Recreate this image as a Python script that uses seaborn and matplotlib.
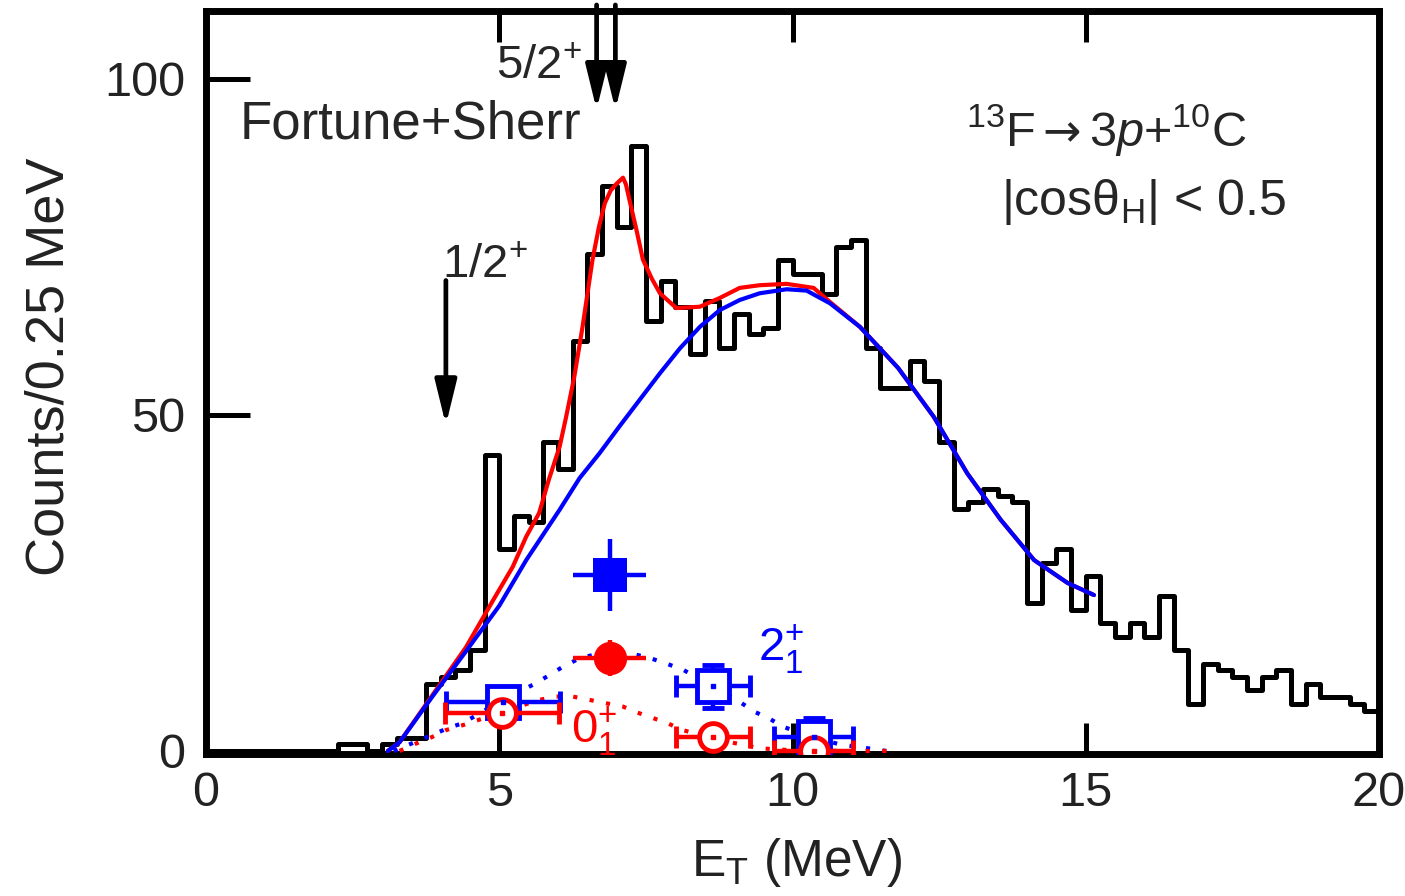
import numpy as np
import pandas as pd
import matplotlib
matplotlib.use("Agg")
import matplotlib.pyplot as plt
import seaborn as sns

# ---------------- data ----------------
bin_width = 0.25
bin_lo = np.arange(0, 20, bin_width)          # left edges of the 0.25 MeV bins
counts = [0, 0, 0, 0, 0, 0, 0, 0, 0,            # 0.00 - 2.25
          1, 1, 0, 1, 2, 2,                      # 2.25 - 3.75
          10, 11, 12, 15, 44, 30, 35, 34, 46, 42,  # 3.75 - 6.25
          61, 74, 84, 78, 90, 64, 70, 66, 59, 67,  # 6.25 - 8.75
          60, 65, 62, 63, 73, 71, 71, 68, 75, 76,  # 8.75 - 11.25
          60, 54, 54, 58, 55, 46, 36, 37, 39, 38,  # 11.25 - 13.75
          37, 22, 28, 30, 21, 26, 19, 17, 19, 17,  # 13.75 - 16.25
          23, 15, 7, 13, 12, 11, 9, 11, 12, 7,     # 16.25 - 18.75
          10, 8, 8, 7, 6]                          # 18.75 - 20.00

# total fit (red) and smooth background (blue)
fit_E = [3.1, 3.3, 3.86, 4.43, 4.9, 5.23, 5.46, 5.68, 5.85, 6.03, 6.14, 6.28,
         6.42, 6.59, 6.7, 6.8, 6.9, 7.0, 7.11, 7.16, 7.22, 7.34, 7.45,
         7.6, 7.74, 8.02, 8.42, 8.76, 9.1, 9.44, 9.9, 10.36, 10.64, 11.15,
         11.8, 12.41, 12.98, 13.55, 14.12, 14.69, 15.14]
fit_N = [0, 1.3, 8.3, 15.4, 22.5, 27.4, 31.9, 35.4, 40.5, 45.3, 49.7, 55.7,
         63.1, 73.1, 78.0, 81.5, 83.4, 84.4, 85.3, 84.3, 82.0, 77.5, 73.1,
         70.3, 68.1, 65.9, 66.1, 67.4, 68.9, 69.3, 69.5, 68.9, 66.8, 63.1,
         57.0, 49.7, 41.3, 34.4, 28.4, 25.0, 23.2]
bg_E = [3.1, 3.3, 3.86, 4.43, 5.0, 5.46, 6.03, 6.37, 6.71, 7.05, 7.39, 7.74,
        8.08, 8.42, 8.76, 9.1, 9.44, 9.9, 10.24, 10.64, 11.15, 11.8, 12.41,
        12.98, 13.55, 14.12, 14.69, 15.14]
bg_N = [0, 1.3, 8.1, 14.8, 21.6, 28.4, 35.9, 40.6, 44.3, 48.3, 52.2, 56.2,
        59.9, 63.1, 65.6, 67.1, 68.1, 68.7, 68.5, 66.6, 63.1, 57.0, 49.7,
        41.3, 34.4, 28.4, 25.0, 23.2]

# 2+ (blue dotted) and 0+ (red dotted) components
c2_E = [3.2, 3.86, 4.15, 4.37, 5.0, 5.63, 6.08, 6.37, 6.94, 7.51, 7.85, 8.13,
        8.65, 9.1, 9.36, 9.59, 9.84, 10.36, 10.8, 11.2, 11.6]
c2_N = [0, 2.4, 3.5, 4.1, 7.3, 10.1, 12.5, 13.8, 15.0, 14.0, 13.0, 12.1,
        9.6, 7.3, 5.8, 4.9, 3.6, 2.0, 1.0, 0.5, 0]
c0_E = [3.3, 3.58, 3.86, 4.09, 4.4, 4.64, 5.05, 5.68, 5.97, 6.25, 6.54, 6.82,
        7.11, 7.36, 7.62, 7.85, 8.13, 8.65, 9.0, 9.44, 10.0, 11.0, 11.7]
c0_N = [0, 1.1, 2.1, 3.1, 3.9, 4.6, 5.8, 7.6, 8.1, 8.1, 7.6, 7.1,
        6.6, 5.7, 4.9, 4.2, 3.1, 1.9, 1.2, 0.4, 0.1, 0, 0]

# extracted yields with error bars
p2_fill_E, p2_fill_N, p2_fill_xe, p2_fill_ye = [6.88], [26.2], [0.63], [5.3]
p0_fill_E, p0_fill_N, p0_fill_xe, p0_fill_ye = [6.88], [13.8], [0.63], [2.7]
p2_open_E = [5.07, 8.65, 10.36]
p2_open_N = [7.3, 9.6, 2.1]
p2_open_xe = [0.97, 0.63, 0.68]
p2_open_ye = [1.0, 3.2, 2.8]
p0_open_E = [5.05, 8.65, 10.36]
p0_open_N = [5.7, 2.1, 0.0]
p0_open_xe = [0.97, 0.63, 0.68]
p0_open_ye = [1.0, 1.0, 1.0]

# level markers (Fortune+Sherr)
lvl_half_E = 4.09
lvl_52_E = [6.66, 6.98]

x_ticks = [0, 5, 10, 15, 20]
y_ticks = [0, 50, 100]

# ---------------- style ----------------
sns.set_theme(style="white")
plt.rcParams["font.family"] = ["Liberation Sans", "DejaVu Sans"]
plt.rcParams["mathtext.fontset"] = "custom"
plt.rcParams["mathtext.rm"] = "Liberation Sans"
plt.rcParams["mathtext.it"] = "Liberation Sans:italic"
plt.rcParams["mathtext.bf"] = "Liberation Sans:bold"

RED = "#ff0000"
BLUE = "#0000ff"

W, H = 1405, 896
fig = plt.figure(figsize=(W / 100, H / 100), dpi=100)
L, R, T, B = 206, 1379, 11, 754
ax = fig.add_axes([L / W, 1 - B / H, (R - L) / W, (B - T) / H])

hist_df = pd.DataFrame({"E": bin_lo + bin_width / 2, "N": counts})
sns.histplot(data=hist_df, x="E", weights="N",
             binwidth=bin_width, binrange=(0, 20), element="step", fill=False,
             color="black", linewidth=3.6, ax=ax, zorder=2)

sns.lineplot(x=fit_E, y=fit_N, sort=False, color=RED, linewidth=3.0,
             ax=ax, zorder=3)
sns.lineplot(x=bg_E, y=bg_N, sort=False, color=BLUE, linewidth=3.0,
             ax=ax, zorder=4)
sns.lineplot(x=c2_E, y=c2_N, sort=False, color=BLUE, linewidth=3.0,
             linestyle=(0, (1, 3)), ax=ax, zorder=5)
sns.lineplot(x=c0_E, y=c0_N, sort=False, color=RED, linewidth=3.0,
             linestyle=(0, (1, 3)), ax=ax, zorder=5)

eb = dict(capsize=8, capthick=3.2, elinewidth=3.2, linestyle="none")
ax.errorbar(p2_open_E, p2_open_N, xerr=p2_open_xe, yerr=p2_open_ye,
            fmt="s", ms=23, mfc="white", mec=BLUE, mew=3.5, ecolor=BLUE,
            zorder=6, **eb)
ax.errorbar(p0_open_E, p0_open_N, xerr=p0_open_xe, yerr=p0_open_ye,
            fmt="o", ms=20, mfc="white", mec=RED, mew=3.5, ecolor=RED,
            zorder=7, **eb)
ax.plot(p2_open_E, p2_open_N, "s", ms=3, color=BLUE, zorder=8)
ax.plot(p0_open_E, p0_open_N, "s", ms=3, color=RED, zorder=8)
ax.errorbar(p2_fill_E, p2_fill_N, xerr=p2_fill_xe, yerr=p2_fill_ye,
            fmt="s", ms=24, mfc=BLUE, mec=BLUE, mew=0, ecolor=BLUE,
            zorder=7, **eb)
ax.errorbar(p0_fill_E, p0_fill_N, xerr=p0_fill_xe, yerr=p0_fill_ye,
            fmt="o", ms=24, mfc=RED, mec=RED, mew=0, ecolor=RED,
            zorder=7, **eb)

# arrows for the Fortune+Sherr levels
arrow = dict(arrowstyle="-|>,head_length=0.9,head_width=0.22", lw=3.4,
             color="black", shrinkA=0, shrinkB=0, mutation_scale=30)
ax.annotate("", xy=(lvl_half_E, 48.5), xytext=(lvl_half_E, 70.0),
            arrowprops=arrow, zorder=9)
for e in lvl_52_E:
    ax.annotate("", xy=(e, 95.4), xytext=(e, 111), arrowprops=arrow,
                zorder=9, annotation_clip=False)


def px2e(px):
    return (px - L) / (R - L) * 20.0


# texts
fs = 36
ax.text(0.57, 91.2, "Fortune+Sherr", fontsize=38, ha="left", va="baseline")
ax.text(4.95, 100.0, r"5/2$^{+}$", fontsize=fs - 2, ha="left", va="baseline")
ax.text(4.02, 70.4, r"1/2$^{+}$", fontsize=fs - 2, ha="left", va="baseline")
ax.text(px2e(966), 90.0, r"$^{13}$F", fontsize=35, ha="left", va="baseline")
ax.text(px2e(1042), 90.0, "\u2192", fontsize=33, family=["DejaVu Sans"],
        ha="left", va="baseline")
ax.text(px2e(1089), 90.0, r"3$\mathit{p}$+$^{10}$C", fontsize=35,
        ha="left", va="baseline")
ax.text(13.55, 79.8, r"|cosθ$_{\mathrm{H}}$| < 0.5", fontsize=fs,
        ha="left", va="baseline")
ax.text(6.23, 1.2, r"$0^{+}_{1}$", fontsize=fs - 2, color=RED,
        ha="left", va="baseline", zorder=10)
ax.text(9.41, 13.3, r"$2^{+}_{1}$", fontsize=fs - 2, color=BLUE,
        ha="left", va="baseline", zorder=10)

# axes
ax.set_xlim(0, 20)
ax.set_ylim(-0.45, 110.1)
ax.set_xticks(x_ticks)
ax.set_yticks(y_ticks)
ax.set_xticklabels([str(v) for v in x_ticks])
ax.set_yticklabels([str(v) for v in y_ticks])
ax.tick_params(axis="x", direction="in", length=22, width=3.6, top=True,
               bottom=True, labelsize=35, pad=12, color="black",
               labelcolor="#222222")
ax.tick_params(axis="y", direction="in", length=32, width=3.6, left=True,
               right=False, labelsize=35, pad=15, color="black",
               labelcolor="#222222")
for s in ax.spines.values():
    s.set_linewidth(5)
    s.set_color("black")
    s.set_visible(True)

ax.set_xlabel(r"E$_{\mathrm{T}}$ (MeV)", fontsize=37, color="#222222")
ax.set_ylabel("Counts/0.25 MeV", fontsize=39, color="#222222")
ax.xaxis.set_label_coords((797 - L) / (R - L), (B - 836) / (B - T))
ax.yaxis.set_label_coords((75 - L) / (R - L), (B - 367) / (B - T))
ax.grid(False)
ax.set_facecolor("white")

fig.savefig("out.png", dpi=100, facecolor="white")
